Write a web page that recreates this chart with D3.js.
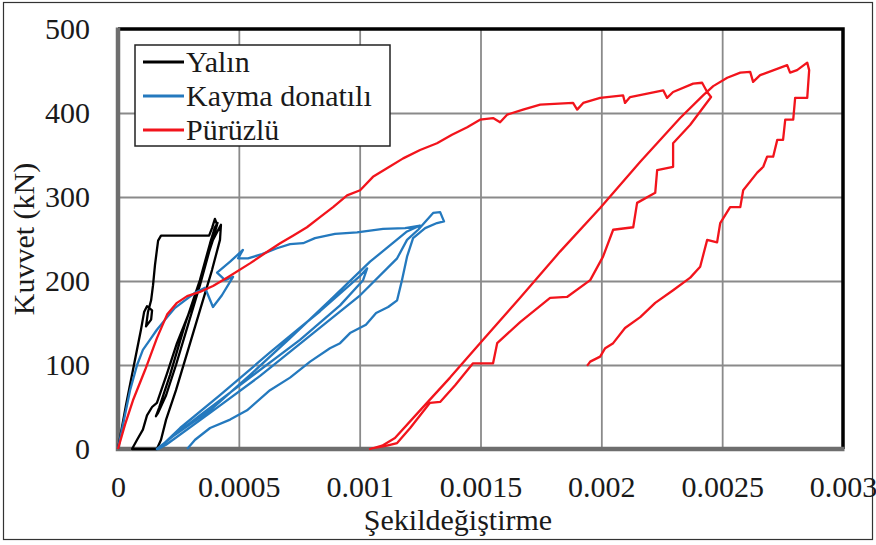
<!DOCTYPE html>
<html>
<head>
<meta charset="utf-8">
<script src="https://cdn.jsdelivr.net/npm/d3@7/dist/d3.min.js"></script>
<style>
  body{margin:0;background:#fff}
</style>
</head>
<body>
<svg id="chart" width="876" height="545"></svg>
<script>
// tick values / labels
const xTicks = [0, 0.0005, 0.001, 0.0015, 0.002, 0.0025, 0.003]
const xTickLabels = ['0', '0.0005', '0.001', '0.0015', '0.002', '0.0025', '0.003']
const yTicks = [0, 100, 200, 300, 400, 500]

const seriesNames = ['Yalın', 'Kayma donatılı', 'Pürüzlü']
const seriesColors = ['#000000', '#2479be', '#f2141c']

// [strain, force kN]
const yalin = [
  [0,0],[0.000033,52],[0.000066,100],[0.000095,142],[0.000108,163],[0.00012,170],
  [0.000141,165],[0.000137,154],[0.000116,146],[0.000124,163],[0.000137,177],
  [0.000145,195],[0.000153,219],[0.000161,237],[0.000166,248],[0.000178,254],
  [0.000257,254],[0.000339,254],[0.000377,254],[0.000389,263],[0.000401,274],
  [0.00041,267],[0.000385,243],[0.000339,195],[0.00029,148],[0.00024,100],
  [0.000199,64],[0.000166,43],[0.000157,39],[0.00017,49],[0.000215,88],
  [0.000277,148],[0.000339,201],[0.000393,249],[0.000426,267],[0.000422,249],
  [0.000389,213],[0.000339,165],[0.00029,118],[0.00024,70],[0.000199,35],
  [0.000178,11],[0.000161,0],[0.000058,0],[0.000079,11],[0.000103,23],
  [0.00012,40],[0.000141,50],[0.000161,55],[0.000203,90],[0.000244,126],
  [0.000298,165],[0.000339,201],[0.000381,245],[0.000401,264],[0.000414,270]
]

const kayma = [
  [0,0],[0.000025,35],[0.00005,70],[0.000079,100],[0.000103,118],[0.000132,130],
  [0.000161,142],[0.000195,154],[0.000236,168],[0.000277,177],[0.000319,186],
  [0.00036,192],[0.000393,169],[0.00043,183],[0.000476,205],[0.000443,201],
  [0.00041,210],[0.000464,223],[0.000517,237],[0.000497,227],[0.000538,227],
  [0.000596,232],[0.000658,239],[0.000712,244],[0.000766,245],[0.000815,251],
  [0.000898,256],[0.000989,258],[0.001097,262],[0.001188,263],[0.00125,266],
  // unload / reload cycles
  [0.001196,259],[0.001043,223],[0.000877,177],[0.000712,132],[0.000546,88],
  [0.000381,46],[0.000236,17],[0.000161,0],[0.000178,4],[0.000339,40],
  [0.000546,85],[0.000753,130],[0.000919,171],[0.001014,201],[0.001031,215],
  [0.001002,206],[0.000836,164],[0.000629,115],[0.000422,64],[0.000257,25],
  [0.000166,0],[0.000199,5],[0.000381,43],[0.000588,87],[0.000795,135],
  [0.001002,183],[0.001155,227],[0.001196,249],[0.001242,261],[0.001304,281],
  [0.001333,282],[0.001349,271],[0.00132,269],
  // final unloading
  [0.001271,263],[0.001221,251],[0.001196,229],[0.001175,201],[0.001155,177],
  [0.001118,169],[0.001068,162],[0.001026,148],[0.00096,138],[0.000919,126],
  [0.000877,120],[0.000795,104],[0.000712,85],[0.000629,70],[0.000534,46],
  [0.000464,35],[0.000381,25],[0.000319,11],[0.000286,0]
]

const puruzlu = [
  [0,0],[0.000029,29],[0.000062,58],[0.000112,94],[0.000161,132],[0.000203,160],
  [0.000244,174],[0.000286,182],[0.000339,187],[0.000393,194],[0.000451,204],
  [0.000546,221],[0.000608,233],[0.000671,245],[0.000724,254],[0.000782,264],
  [0.000836,276],[0.00089,288],[0.000948,302],[0.001002,308],[0.001055,324],
  [0.001118,335],[0.00118,346],[0.00125,356],[0.00132,364],[0.001382,374],
  [0.001445,383],[0.001498,392],[0.001552,394],[0.001581,389],[0.00161,398],
  [0.001676,404],[0.001747,410],[0.001883,412],[0.0019,404],[0.001925,412],
  [0.001995,418],[0.00209,421],[0.002098,412],[0.002119,419],[0.002256,427],
  [0.002272,418],[0.002297,425],[0.00238,435],[0.002417,436],[0.002438,425],
  [0.002454,419],
  // stepped unloading
  [0.002368,386],[0.002297,364],[0.002297,336],[0.002231,332],[0.002223,305],
  [0.002148,293],[0.002132,264],[0.002049,261],[0.002007,229],[0.001954,201],
  [0.001858,181],[0.001788,180],[0.001664,151],[0.001569,126],[0.001552,102],
  [0.001469,102],[0.001395,76],[0.001333,56],[0.001291,55],[0.001209,25],
  [0.001155,7],[0.001113,4],[0.001055,1],
  // reloading
  [0.001043,0],[0.001093,4],[0.001146,13],[0.00125,46],[0.001374,85],
  [0.001498,126],[0.001664,180],[0.001829,235],[0.001995,287],[0.002161,342],
  [0.002326,394],[0.002421,421],[0.002463,432],
  [0.002521,442],[0.002575,448],[0.002616,449],[0.002628,437],[0.002657,445],
  [0.002769,457],[0.002781,448],[0.00281,451],[0.002852,460],[0.00286,451],
  // final stepped unloading
  [0.002852,418],[0.002802,418],[0.002794,392],[0.002761,392],[0.002752,368],
  [0.002728,368],[0.002711,348],[0.002686,348],[0.00267,336],[0.002645,329],
  [0.002587,308],[0.002575,288],[0.002533,288],[0.002492,269],[0.002479,246],
  [0.002438,249],[0.002409,217],[0.002368,204],[0.002297,189],[0.002223,174],
  [0.002161,157],[0.002098,144],[0.002049,126],[0.002016,120],[0.001995,110],
  [0.001954,104],[0.001941,99]
]

const FONT = '"Liberation Serif", "Times New Roman", Tinos, "DejaVu Serif", serif'

const svg = d3.select('#chart')
const m = {left: 118, right: 843, top: 29, bottom: 449}

const x = d3.scaleLinear().domain([0, 0.003]).range([m.left, m.right])
const y = d3.scaleLinear().domain([0, 500]).range([m.bottom, m.top])

// outer frame
svg.append('rect')
  .attr('x', 3.5).attr('y', 2.5).attr('width', 869).attr('height', 537)
  .attr('fill', 'none').attr('stroke', '#333').attr('stroke-width', 1.2)

// grid
svg.append('g')
  .attr('transform', `translate(0,${m.bottom})`)
  .call(d3.axisBottom(x).tickValues(xTicks.slice(1, -1)).tickSize(-(m.bottom - m.top)).tickFormat(''))
  .call(g => g.select('.domain').remove())
  .selectAll('line').attr('stroke', '#8a8a8a').attr('stroke-width', 1.8)

svg.append('g')
  .attr('transform', `translate(${m.left},0)`)
  .call(d3.axisLeft(y).tickValues(yTicks.slice(1, -1)).tickSize(-(m.right - m.left)).tickFormat(''))
  .call(g => g.select('.domain').remove())
  .selectAll('line').attr('stroke', '#8a8a8a').attr('stroke-width', 1.8)

// plot border: black top/right, grey axes left/bottom
svg.append('path')
  .attr('d', `M${m.left},${m.top}H${m.right}V${m.bottom}`)
  .attr('fill', 'none').attr('stroke', '#000').attr('stroke-width', 3.5)
svg.append('path')
  .attr('d', `M${m.left},${m.top - 1.5}V${m.bottom}H${m.right + 1.5}`)
  .attr('fill', 'none').attr('stroke', '#6e6e6e').attr('stroke-width', 4.5)

// tick labels
svg.append('g')
  .attr('transform', `translate(0,${m.bottom})`)
  .call(d3.axisBottom(x).tickValues(xTicks).tickFormat((d, i) => xTickLabels[i]).tickSize(0).tickPadding(27))
  .call(g => g.select('.domain').remove())
  .attr('font-family', FONT).attr('font-size', 30)
  .selectAll('text').attr('fill', '#1a1a1a')

svg.append('g')
  .attr('transform', `translate(${m.left},0)`)
  .call(d3.axisLeft(y).tickValues(yTicks).tickSize(0).tickPadding(28))
  .call(g => g.select('.domain').remove())
  .attr('font-family', FONT).attr('font-size', 30)
  .selectAll('text').attr('fill', '#1a1a1a')

// axis titles
svg.append('text')
  .attr('x', 458).attr('y', 530)
  .attr('text-anchor', 'middle')
  .attr('font-family', FONT).attr('font-size', 30).attr('fill', '#1a1a1a')
  .text('Şekildeğiştirme')

svg.append('text')
  .attr('transform', `translate(34,${(m.top + m.bottom) / 2}) rotate(-90)`)
  .attr('text-anchor', 'middle')
  .attr('font-family', FONT).attr('font-size', 30).attr('fill', '#1a1a1a')
  .text('Kuvvet (kN)')

// curves
const line = d3.line().x(d => x(d[0])).y(d => y(d[1]))
const series = [yalin, kayma, puruzlu]

svg.append('g')
  .selectAll('path')
  .data(series)
  .join('path')
  .attr('d', line)
  .attr('fill', 'none')
  .attr('stroke', (d, i) => seriesColors[i])
  .attr('stroke-width', 2.3)
  .attr('stroke-linejoin', 'round')

// legend
const legend = svg.append('g').attr('transform', 'translate(135,45)')
legend.append('rect')
  .attr('width', 255).attr('height', 101)
  .attr('fill', '#fff').attr('stroke', '#222').attr('stroke-width', 1.5)

const item = legend.selectAll('g.item')
  .data(seriesNames)
  .join('g')
  .attr('class', 'item')
  .attr('transform', (d, i) => `translate(0,${17 + i * 34})`)

item.append('line')
  .attr('x1', 8).attr('x2', 49)
  .attr('stroke', (d, i) => seriesColors[i])
  .attr('stroke-width', 3)

item.append('text')
  .attr('x', 51).attr('y', 10)
  .attr('font-family', FONT).attr('font-size', 30).attr('fill', '#1a1a1a')
  .text(d => d)
</script>
</body>
</html>
